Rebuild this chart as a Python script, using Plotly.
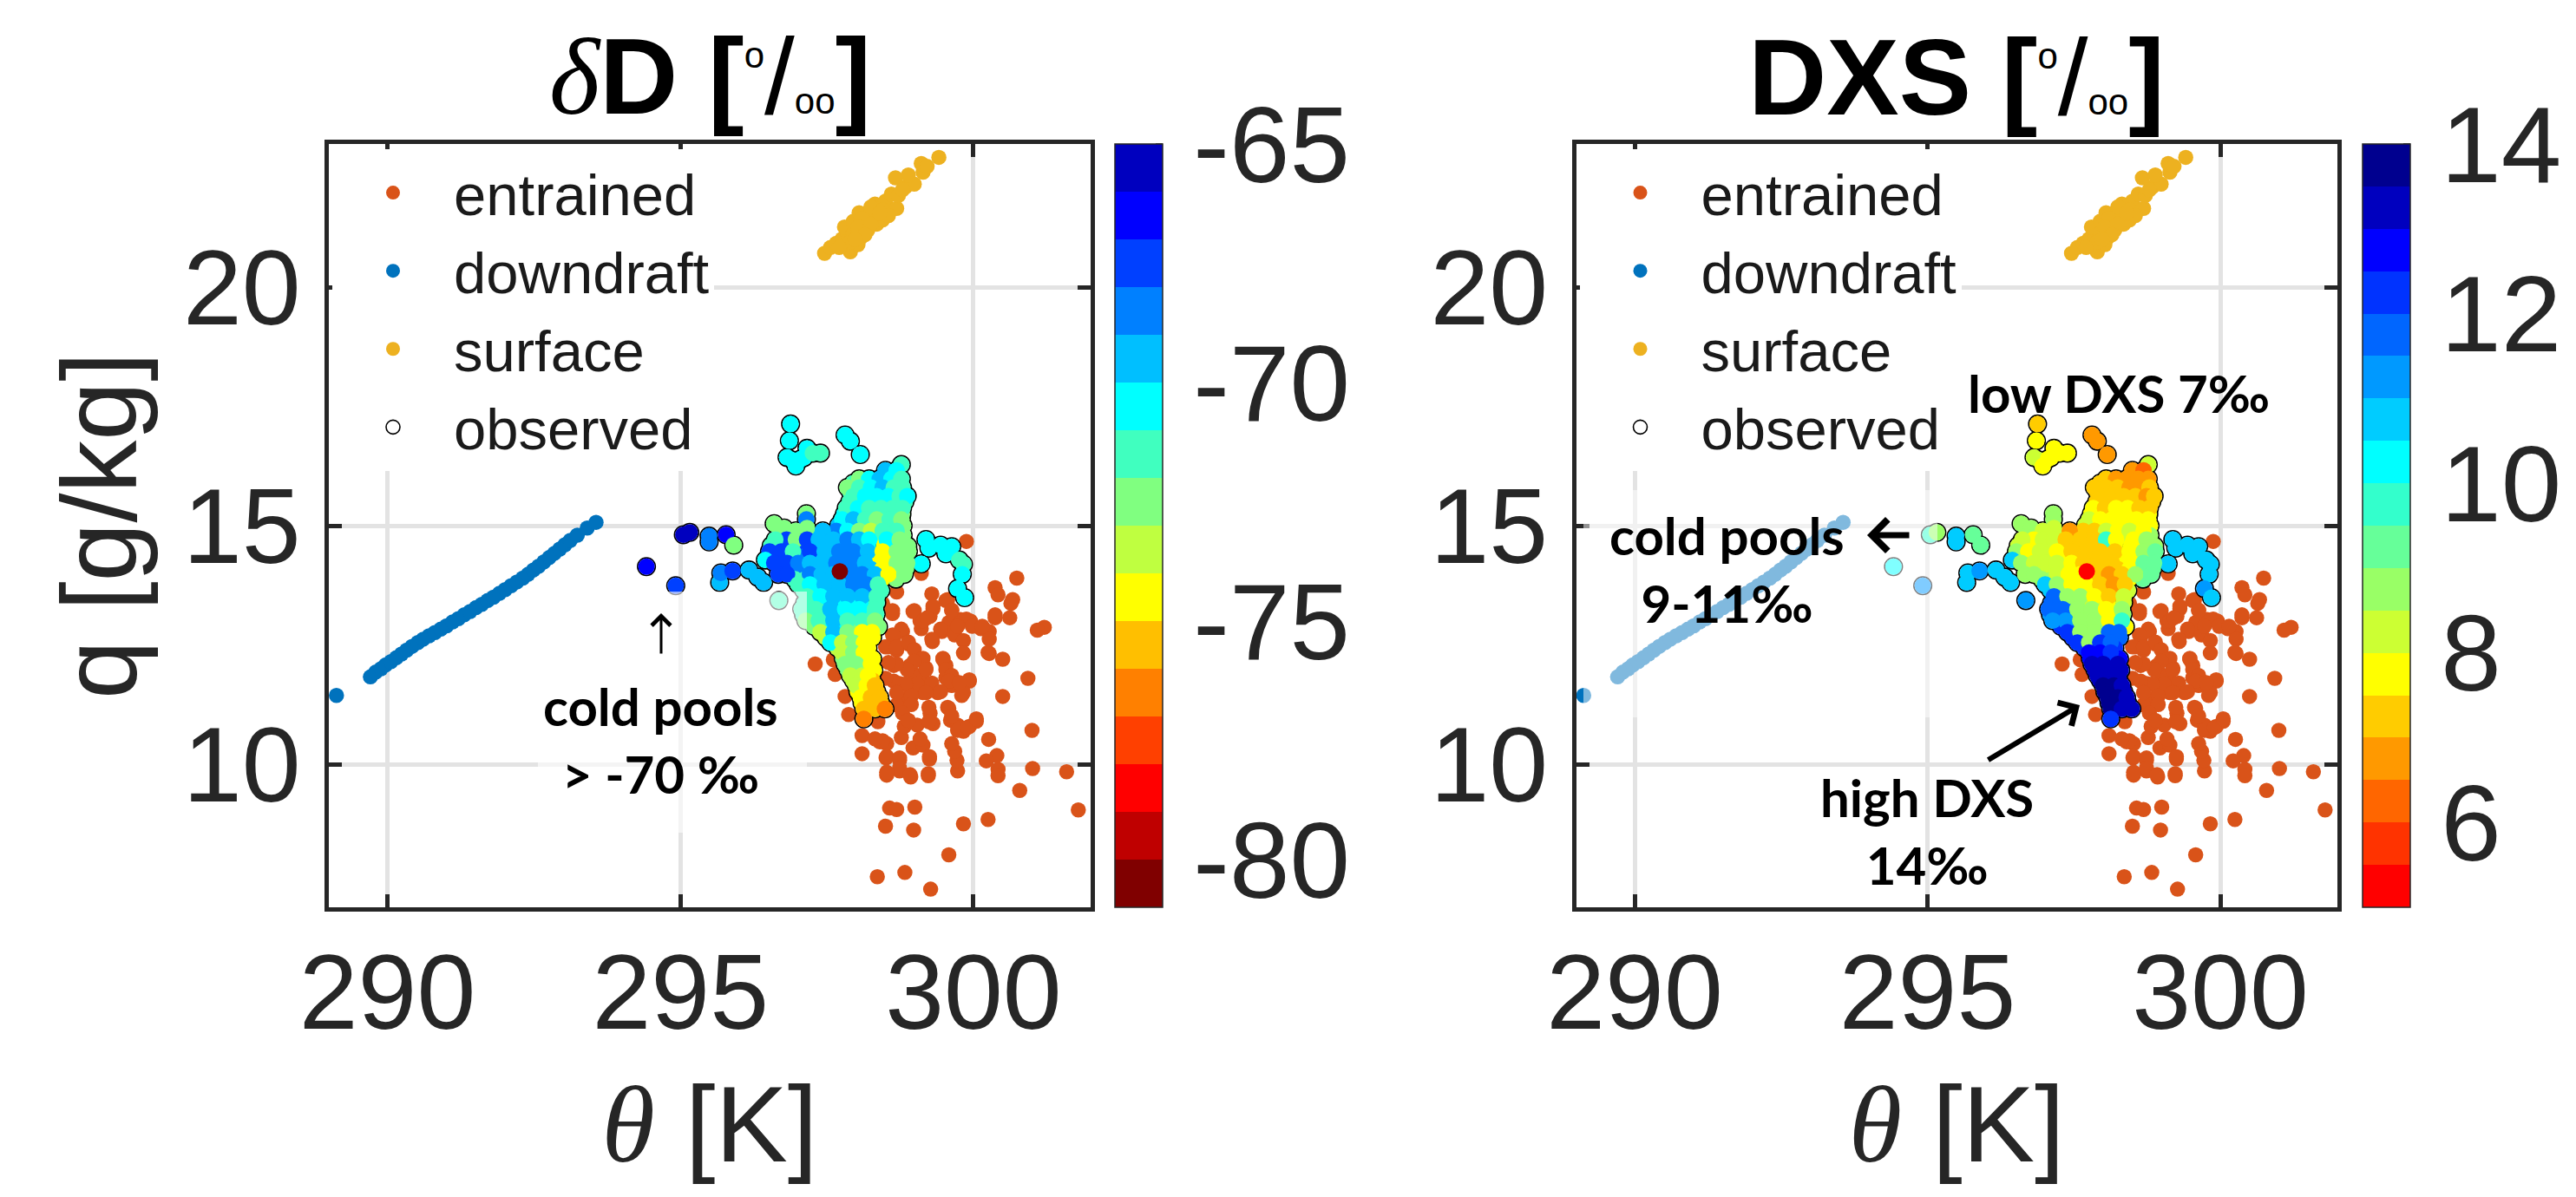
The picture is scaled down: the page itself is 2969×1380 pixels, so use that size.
import plotly.graph_objects as go

W, H = 2969, 1380
FONT = "Liberation Sans"
CALLOUT = "Lato"
INK = "#262626"

theta_ticks = [290, 295, 300]
q_ticks = [10, 15, 20]
dD_ticks = [-65, -70, -75, -80]
dD_tick_text = ["-65", "-70", "-75", "-80"]
dxs_ticks = [6, 8, 10, 12, 14]

dD_bands = ["#800000", "#BF0000", "#FF0000", "#FF4000", "#FF8000", "#FFBF00", "#FFFF00", "#BFFF40",
            "#80FF80", "#40FFBF", "#00FFFF", "#00BFFF", "#0080FF", "#0040FF", "#0000FF", "#0000BF"]
dxs_bands = ["#FF0000", "#FF3300", "#FF6600", "#FF9900", "#FFCC00", "#FFFF00", "#CCFF33", "#99FF66", "#66FF99",
             "#33FFCC", "#00FFFF", "#00CCFF", "#0099FF", "#0066FF", "#0033FF", "#0000FF", "#0000BF", "#00008F"]

ent_theta = [299.88, 299.11, 300.74, 300.37, 300.42, 300.67, 300.64, 300.62, 301.21, 301.09, 300.50, 300.93, 300.50,
             301.00, 300.26, 300.40, 300.22, 300.42, 300.42, 301.01, 301.59, 300.79, 301.79, 300.25, 299.83, 299.58,
             298.83, 298.36, 299.27, 299.00, 298.57, 298.69, 298.50, 298.98, 298.52, 298.93, 299.23, 299.73, 299.72,
             299.68, 299.63, 299.25, 298.74, 298.74, 298.51, 298.40, 298.52, 298.97, 299.14, 298.77, 299.09, 298.82,
             299.04, 299.31, 299.26, 299.58, 299.61, 299.73, 299.83, 299.93, 300.05, 299.80, 299.93, 299.63, 299.53,
             299.53, 299.48, 299.39, 299.14, 298.94, 298.74, 298.84, 298.69, 299.14, 298.99, 299.19, 299.04, 298.92,
             298.64, 298.79, 298.64, 298.55, 298.69, 298.89, 299.30, 299.46, 299.68, 299.83, 299.83, 299.58, 299.78,
             299.95, 300.13, 300.27, 300.27, 300.27, 300.37, 299.56, 299.63, 299.29, 299.31, 299.26, 299.11, 298.97,
             299.09, 298.69, 298.62, 297.30, 297.64, 297.81, 297.87, 298.10, 298.10, 298.45, 298.32, 298.52, 298.74,
             298.74, 298.52, 298.92, 299.23, 299.25, 298.62, 298.45, 298.99, 299.14, 299.31, 299.21, 299.53, 299.63,
             299.88, 299.73, 299.98, 300.15, 300.37, 299.44, 299.29, 298.77, 298.62, 298.50, 298.69, 298.89, 298.99,
             299.14, 298.99, 298.87, 298.69, 298.55, 299.19, 299.48, 299.53, 299.63, 299.58, 299.93, 299.29, 299.04,
             298.84, 298.64, 298.50, 298.69, 298.94, 299.19, 299.44, 299.83, 299.76, 299.56, 299.24, 298.94, 298.79,
             298.89, 299.24, 299.63, 299.73, 299.90, 300.05, 300.25, 297.61, 298.37]
ent_q = [14.67, 14.00, 13.90, 13.70, 13.55, 13.45, 13.37, 13.07, 12.87, 12.81, 12.20, 11.80, 11.42,
         10.71, 10.52, 10.18, 10.07, 9.89, 9.76, 9.91, 9.84, 9.45, 9.04, 8.84, 8.75, 8.10,
         7.73, 7.64, 7.38, 9.10, 9.08, 9.05, 8.70, 8.62, 9.77, 9.73, 9.76, 9.86, 10.08,
         10.27, 10.43, 10.11, 10.08, 9.86, 10.13, 10.47, 10.43, 10.34, 10.40, 10.56, 10.53, 10.79,
         10.82, 10.85, 11.07, 11.17, 10.92, 10.82, 10.69, 10.79, 10.90, 11.44, 11.74, 11.65, 11.81,
         12.07, 12.20, 11.50, 11.50, 11.56, 11.69, 11.37, 11.24, 11.75, 11.88, 12.01, 12.20, 12.07,
         12.07, 12.78, 12.65, 12.46, 12.39, 12.52, 12.57, 12.78, 12.71, 12.59, 12.33, 12.97, 13.03,
         13.00, 12.84, 12.78, 12.62, 12.32, 13.07, 13.45, 13.23, 13.57, 13.26, 13.10, 12.84, 13.20,
         13.00, 13.61, 13.16, 12.10, 11.88, 11.42, 11.04, 10.60, 10.22, 10.49, 10.53, 10.16, 10.13,
         9.92, 9.83, 9.78, 9.80, 10.16, 13.22, 13.37, 13.22, 13.01, 13.31, 13.07, 13.43, 13.22,
         13.04, 12.89, 12.89, 12.89, 13.13, 12.83, 12.62, 12.83, 12.71, 12.46, 12.46, 12.56, 12.40,
         12.22, 12.16, 11.98, 12.10, 12.13, 11.98, 12.22, 11.98, 11.86, 11.74, 11.77, 11.70, 11.68,
         11.68, 11.74, 11.80, 11.50, 11.43, 11.50, 11.52, 11.50, 11.71, 11.19, 11.19, 11.25, 11.07,
         10.92, 10.89, 11.01, 10.71, 10.77, 10.95, 12.34, 12.19, 10.89]

down_theta = [289.13, 289.71, 289.80, 289.89, 289.97, 290.06, 290.15, 290.24, 290.33, 290.42, 290.52, 290.61, 290.71, 290.81,
              290.91, 291.01, 291.11, 291.21, 291.31, 291.41, 291.51, 291.61, 291.71, 291.81, 291.91, 292.01, 292.11, 292.21,
              292.31, 292.40, 292.49, 292.58, 292.67, 292.76, 292.85, 292.94, 293.03, 293.12, 293.24, 293.41, 293.56]
down_q = [11.44, 11.83, 11.93, 12.00, 12.08, 12.15, 12.23, 12.31, 12.39, 12.47, 12.55, 12.62, 12.69, 12.76,
          12.83, 12.90, 12.98, 13.05, 13.13, 13.20, 13.28, 13.35, 13.43, 13.50, 13.58, 13.66, 13.74, 13.82,
          13.90, 13.98, 14.07, 14.15, 14.24, 14.33, 14.42, 14.51, 14.60, 14.69, 14.80, 14.95, 15.07]

surf_theta = [297.46, 297.56, 297.66, 297.90, 298.03, 297.76, 297.85, 298.08, 297.80, 297.95, 298.05, 298.15, 298.35, 298.25,
              298.45, 298.32, 298.50, 298.69, 298.60, 298.72, 298.84, 298.99, 298.67, 298.89, 299.14, 299.11, 299.21, 299.41,
              298.20, 297.90, 298.25, 298.45, 298.10, 298.55, 298.79, 297.71, 297.95, 298.03, 298.25, 298.40, 298.15, 297.98]
surf_q = [20.71, 20.83, 20.92, 20.74, 20.89, 21.01, 21.13, 21.04, 21.26, 21.38, 21.56, 21.32, 21.32, 21.50,
          21.41, 21.74, 21.80, 21.65, 21.95, 21.92, 22.10, 22.16, 22.29, 22.35, 22.41, 22.59, 22.53, 22.72,
          21.20, 20.95, 21.68, 21.62, 21.44, 21.50, 22.04, 20.83, 21.13, 21.26, 21.32, 21.55, 21.10, 21.00]

obs_theta = [294.42, 294.92, 295.05, 295.16, 295.49, 295.49, 295.78, 295.91, 295.67, 295.69, 295.89, 296.17, 296.32, 296.42, 296.68,
             296.88, 296.86, 296.82, 296.92, 296.97, 297.06, 297.16, 297.11, 297.26, 297.39,
             297.81, 297.90, 298.07,
             299.19, 299.24, 299.44, 299.63, 299.53, 299.76, 299.83, 299.81, 299.73, 299.85, 299.11,
             297.95, 298.14, 298.31, 298.50, 298.70,
             297.90, 298.10, 298.30, 298.50, 298.69,
             297.89, 298.09, 298.28, 298.48, 298.68, 298.83,
             297.80, 297.99, 298.18, 298.38, 298.59, 298.78,
             297.70, 297.88, 298.05, 298.25, 298.45, 298.65, 298.80,
             296.72, 296.90, 297.05, 297.25, 297.50, 297.73, 297.95, 298.15, 298.35, 298.60, 298.80,
             296.55, 296.72, 296.90, 297.07, 297.26, 297.50, 297.74, 297.98, 298.20, 298.48, 298.72, 298.88,
             296.56, 296.70, 296.88, 297.10, 297.33, 297.58, 297.82, 298.05, 298.33, 298.58, 298.78,
             296.70, 296.92, 297.10, 297.32, 297.55, 297.78, 298.03, 298.25, 298.45, 298.66, 298.85,
             296.95, 297.12, 297.32, 297.55, 297.80, 298.02, 298.25, 298.45, 298.68,
             297.10, 297.28, 297.52, 297.78, 298.02, 298.25, 298.42,
             297.12, 297.35, 297.58, 297.83, 298.08, 298.35,
             297.10, 297.33, 297.58, 297.83, 298.08, 298.34,
             297.28, 297.50, 297.73, 297.98, 298.22, 298.38,
             297.48, 297.68, 297.90, 298.10, 298.28,
             297.68, 297.86, 298.05, 298.20,
             297.78, 297.92, 298.10, 298.28,
             297.86, 298.00, 298.18, 298.30,
             297.95, 298.12, 298.27,
             298.03, 298.18, 298.35,
             298.10, 298.25, 298.42,
             298.77,
             298.50, 298.69,
             298.05, 298.22, 298.40, 298.60, 298.77,
             297.85, 298.05, 298.25, 298.45, 298.64, 298.79,
             297.95, 298.15, 298.35, 298.55, 298.74, 298.87,
             297.83, 298.03, 298.22, 298.42, 298.62, 298.79,
             297.76, 297.95, 298.15, 298.35, 298.57, 298.77,
             297.15, 297.15, 297.16,
             296.60, 296.77, 296.97,
             297.66, 297.85, 298.05, 298.25, 298.45, 298.69, 297.43,
             296.81, 296.62, 296.97, 297.16, 297.36, 297.61, 297.85, 298.05, 298.22, 298.52, 298.74,
             296.52, 296.72, 296.92, 297.21, 297.46, 297.71, 297.95, 298.20, 298.45, 298.69, 298.89,
             296.45, 296.60, 296.82, 297.01, 297.21, 297.46, 297.66, 297.90, 298.15, 298.50, 298.69, 298.87,
             296.67, 296.82, 297.21, 297.41, 297.61, 297.85, 298.10, 298.32, 298.55, 298.82,
             297.01, 297.21, 297.46, 297.71, 297.95, 298.18, 298.37,
             297.16, 297.39, 297.61, 297.85, 298.10, 298.35,
             297.07, 297.31, 297.56, 297.81, 298.05, 298.32,
             297.14, 297.36, 297.61, 297.85, 298.10, 298.32,
             297.39, 297.61, 297.85, 298.10, 298.27,
             297.56, 297.76, 297.95, 298.13,
             297.76, 297.95, 298.13,
             297.81, 298.00, 298.25,
             297.90, 298.10, 298.20,
             298.00, 298.18, 298.32,
             298.08, 298.25, 298.40,
             298.13, 298.32, 298.49,
             298.13,
             297.72]
obs_q = [14.14, 13.74, 14.81, 14.86, 14.78, 14.66, 14.81, 14.59, 13.81, 14.01, 14.05, 14.07, 13.92, 13.81, 13.43,
         17.13, 16.78, 16.43, 16.37, 16.25, 16.40, 16.62, 16.43, 16.52, 16.52,
         16.90, 16.77, 16.49,
         14.71, 14.53, 14.59, 14.56, 14.41, 14.28, 14.19, 13.98, 13.68, 13.49, 14.20,
         15.89, 15.91, 15.88, 15.90, 15.89,
         15.71, 15.70, 15.72, 15.71, 15.69,
         15.50, 15.49, 15.51, 15.50, 15.48, 15.50,
         15.25, 15.26, 15.24, 15.25, 15.26, 15.24,
         15.01, 15.02, 15.00, 15.01, 15.03, 15.01, 15.00,
         14.80, 14.81, 14.80, 14.79, 14.80, 14.80, 14.81, 14.80, 14.79, 14.80, 14.80,
         14.58, 14.59, 14.57, 14.58, 14.58, 14.60, 14.58, 14.57, 14.58, 14.59, 14.58, 14.57,
         14.35, 14.34, 14.36, 14.35, 14.34, 14.35, 14.36, 14.35, 14.34, 14.35, 14.35,
         14.10, 14.11, 14.10, 14.09, 14.10, 14.11, 14.10, 14.09, 14.10, 14.10, 14.11,
         13.88, 13.87, 13.88, 13.89, 13.88, 13.87, 13.88, 13.89, 13.88,
         13.65, 13.66, 13.64, 13.65, 13.66, 13.65, 13.64,
         13.38, 13.39, 13.38, 13.37, 13.38, 13.39,
         13.13, 13.14, 13.13, 13.12, 13.13, 13.14,
         12.89, 12.88, 12.89, 12.90, 12.89, 12.88,
         12.66, 12.67, 12.66, 12.65, 12.66,
         12.44, 12.45, 12.44, 12.43,
         12.22, 12.23, 12.22, 12.21,
         11.98, 11.99, 11.98, 11.97,
         11.76, 11.75, 11.76,
         11.52, 11.53, 11.52,
         11.28, 11.27, 11.28,
         16.28,
         16.16, 16.16,
         15.98, 15.98, 15.98, 15.98, 15.98,
         15.80, 15.80, 15.80, 15.80, 15.80, 15.80,
         15.62, 15.62, 15.62, 15.62, 15.62, 15.62,
         15.37, 15.37, 15.37, 15.37, 15.37, 15.37,
         15.13, 15.13, 15.13, 15.13, 15.13, 15.13,
         15.25, 15.13, 14.95,
         15.04, 14.95, 14.89,
         14.89, 14.89, 14.89, 14.89, 14.89, 14.89, 14.89,
         14.71, 14.71, 14.71, 14.71, 14.71, 14.71, 14.71, 14.71, 14.71, 14.71, 14.71,
         14.46, 14.46, 14.46, 14.46, 14.46, 14.46, 14.46, 14.46, 14.46, 14.46, 14.46,
         14.28, 14.22, 14.22, 14.22, 14.22, 14.22, 14.22, 14.22, 14.22, 14.22, 14.22, 14.22,
         13.98, 13.98, 13.98, 13.98, 13.98, 13.98, 13.98, 13.98, 13.98, 13.98,
         13.77, 13.77, 13.77, 13.77, 13.77, 13.77, 13.77,
         13.52, 13.52, 13.52, 13.52, 13.52, 13.52,
         13.25, 13.25, 13.25, 13.25, 13.25, 13.25,
         13.01, 13.01, 13.01, 13.01, 13.01, 13.01,
         12.77, 12.77, 12.77, 12.77, 12.77,
         12.55, 12.55, 12.55, 12.55,
         12.34, 12.34, 12.34,
         12.10, 12.10, 12.10,
         11.86, 11.86, 11.86,
         11.65, 11.65, 11.65,
         11.40, 11.40, 11.40,
         11.16, 11.16, 11.16,
         10.95,
         14.04]
obs_dD = [-66.5, -67.5, -65.5, -65.5, -68.5, -68.5, -66.5, -72.5, -69.5, -68.5, -67.5, -69.5, -69.5, -69.5, -71.5,
          -70.5, -70.5, -70.5, -70.5, -70.5, -70.5, -70.5, -70.5, -71.5, -71.5,
          -70.5, -70.5, -70.5,
          -70.5, -70.5, -70.5, -70.5, -70.5, -71.5, -71.5, -70.5, -70.5, -70.5, -70.5,
          -71.5, -70.5, -69.5, -70.5, -71.5,
          -71.5, -70.5, -70.5, -70.5, -71.5,
          -71.5, -70.5, -70.5, -71.5, -71.5, -71.5,
          -70.5, -70.5, -71.5, -71.5, -71.5, -72.5,
          -69.5, -70.5, -71.5, -72.5, -71.5, -72.5, -72.5,
          -72.5, -72.5, -72.5, -69.5, -69.5, -69.5, -71.5, -72.5, -71.5, -71.5, -72.5,
          -71.5, -67.5, -72.5, -67.5, -69.5, -69.5, -68.5, -69.5, -70.5, -74.5, -72.5, -72.5,
          -67.5, -67.5, -69.5, -68.5, -69.5, -69.5, -68.5, -68.5, -74.5, -74.5, -72.5,
          -67.5, -68.5, -68.5, -69.5, -69.5, -68.5, -68.5, -69.5, -74.5, -72.5, -72.5,
          -71.5, -71.5, -69.5, -69.5, -68.5, -68.5, -71.5, -74.5, -72.5,
          -71.5, -70.5, -69.5, -69.5, -69.5, -69.5, -71.5,
          -71.5, -71.5, -69.5, -70.5, -70.5, -71.5,
          -71.5, -71.5, -69.5, -71.5, -71.5, -71.5,
          -72.5, -70.5, -70.5, -72.5, -73.5, -72.5,
          -73.5, -71.5, -72.5, -74.5, -74.5,
          -73.5, -72.5, -73.5, -74.5,
          -72.5, -72.5, -73.5, -74.5,
          -72.5, -73.5, -74.5, -74.5,
          -73.5, -73.5, -75.5,
          -74.5, -74.5, -75.5,
          -74.5, -74.5, -75.5,
          -71.5,
          -69.5, -70.5,
          -72.5, -70.5, -69.5, -70.5, -71.5,
          -72.5, -71.5, -70.5, -69.5, -71.5, -71.5,
          -71.5, -70.5, -70.5, -70.5, -71.5, -70.5,
          -71.5, -70.5, -71.5, -71.5, -71.5, -71.5,
          -70.5, -69.5, -71.5, -72.5, -71.5, -72.5,
          -72.5, -68.5, -72.5,
          -72.5, -72.5, -72.5,
          -68.5, -70.5, -72.5, -73.5, -71.5, -71.5, -69.5,
          -67.5, -71.5, -72.5, -67.5, -69.5, -69.5, -68.5, -69.5, -70.5, -70.5, -72.5,
          -67.5, -67.5, -71.5, -67.5, -69.5, -68.5, -68.5, -69.5, -74.5, -72.5, -72.5,
          -70.5, -67.5, -67.5, -68.5, -69.5, -69.5, -68.5, -68.5, -69.5, -74.5, -72.5, -72.5,
          -67.5, -67.5, -68.5, -69.5, -69.5, -68.5, -68.5, -69.5, -74.5, -72.5,
          -71.5, -70.5, -69.5, -69.5, -68.5, -68.5, -71.5,
          -71.5, -70.5, -69.5, -69.5, -69.5, -71.5,
          -71.5, -71.5, -69.5, -70.5, -70.5, -71.5,
          -72.5, -71.5, -69.5, -71.5, -71.5, -72.5,
          -73.5, -69.5, -72.5, -74.5, -74.5,
          -70.5, -73.5, -72.5, -74.5,
          -73.5, -72.5, -74.5,
          -72.5, -72.5, -74.5,
          -73.5, -73.5, -74.5,
          -73.5, -74.5, -75.5,
          -74.5, -75.5, -75.5,
          -75.5, -75.5, -76.5,
          -76.5,
          -80.5]
obs_dxs = [10.25, 11.25, 9.75, 8.75, 10.75, 10.75, 9.25, 9.25, 10.75, 10.75, 11.25, 10.75, 10.75, 10.75, 11.25,
           7.25, 7.75, 8.25, 8.25, 7.75, 7.75, 7.75, 7.75, 7.75, 7.75,
           6.75, 6.75, 6.75,
           10.75, 10.75, 10.75, 10.75, 10.75, 10.75, 10.75, 10.75, 11.25, 10.75, 10.75,
           7.25, 6.75, 6.75, 6.75, 6.75,
           7.25, 7.25, 7.25, 6.75, 6.75,
           7.25, 7.25, 7.25, 7.25, 7.25, 7.25,
           7.75, 7.75, 7.75, 7.75, 7.75, 7.75,
           8.25, 7.75, 7.75, 7.75, 7.75, 7.75, 7.75,
           8.25, 8.25, 8.25, 8.25, 6.75, 7.25, 8.25, 7.75, 8.25, 7.75, 8.75,
           8.25, 7.75, 8.25, 8.25, 7.25, 7.25, 7.25, 7.25, 7.75, 7.75, 8.75, 8.75,
           8.75, 8.25, 8.25, 8.25, 7.75, 7.25, 7.25, 7.25, 7.75, 8.75, 9.25,
           8.75, 8.25, 8.25, 7.75, 7.25, 7.25, 7.25, 7.25, 7.75, 9.25, 9.25,
           8.75, 8.75, 7.75, 7.25, 7.25, 7.25, 7.25, 7.75, 9.25,
           10.75, 8.75, 8.75, 7.75, 7.25, 7.25, 8.25,
           11.75, 11.75, 8.75, 8.25, 7.75, 8.25,
           11.25, 11.25, 8.75, 8.75, 7.75, 8.75,
           12.25, 11.75, 8.75, 8.75, 7.75, 7.75,
           12.25, 11.75, 8.75, 11.75, 11.75,
           12.25, 8.75, 12.75, 12.25,
           12.75, 12.75, 12.75, 12.75,
           13.25, 13.25, 13.25, 13.25,
           13.25, 13.75, 13.25,
           13.75, 13.75, 13.25,
           13.75, 13.75, 13.25,
           8.25,
           6.75, 6.25,
           7.25, 6.75, 6.75, 6.75, 6.75,
           7.25, 7.25, 7.25, 6.75, 6.75, 7.25,
           7.25, 7.25, 7.25, 7.25, 6.75, 7.25,
           7.75, 7.25, 7.75, 7.75, 7.25, 7.25,
           8.25, 7.75, 7.75, 7.75, 7.75, 7.75,
           8.75, 8.75, 8.25,
           8.75, 8.75, 8.25,
           7.25, 7.25, 8.25, 7.75, 8.25, 7.75, 6.75,
           7.75, 8.25, 8.25, 8.25, 7.25, 7.25, 7.25, 9.75, 7.75, 7.75, 8.75,
           8.75, 7.75, 8.25, 7.75, 7.25, 7.25, 7.25, 7.25, 7.75, 8.75, 9.25,
           10.75, 8.75, 8.25, 8.25, 8.25, 7.75, 7.25, 7.25, 7.25, 7.75, 9.25, 9.25,
           8.75, 8.75, 8.25, 7.75, 7.75, 7.25, 6.75, 7.25, 8.75, 9.25,
           10.75, 8.75, 7.75, 7.75, 7.25, 6.75, 7.25,
           11.75, 8.75, 8.75, 7.75, 7.25, 8.25,
           11.75, 11.75, 8.75, 8.75, 7.75, 8.75,
           11.25, 11.25, 8.75, 8.75, 7.75, 9.75,
           12.25, 8.75, 8.75, 11.75, 11.75,
           12.25, 8.75, 12.25, 11.75,
           12.75, 12.75, 12.25,
           13.25, 13.25, 13.25,
           13.25, 13.25, 13.25,
           13.75, 13.75, 13.25,
           13.75, 13.75, 13.25,
           13.75, 13.25, 13.25,
           12.25,
           5.25]
assert len(obs_theta) == len(obs_q) == len(obs_dD) == len(obs_dxs), (len(obs_theta), len(obs_q), len(obs_dD), len(obs_dxs))


def stepped(colors):
    n = len(colors)
    scale = []
    for i, c in enumerate(colors):
        scale += [[i / n, c], [(i + 1) / n, c]]
    return scale


def fx(px):
    return px / W


def fy(py):
    return 1 - py / H


TOP, BOTTOM = 166, 1046
panels = [
    dict(suffix="", left=379, right=1257, bar=1285, legend="legend", values=obs_dD, bands=dD_bands,
         cmin=-81, cmax=-65, ticks=dD_ticks, text=dD_tick_text),
    dict(suffix="2", left=1816.5, right=2694, bar=2723, legend="legend2", values=obs_dxs, bands=dxs_bands,
         cmin=5, cmax=14, ticks=dxs_ticks, text=[str(t) for t in dxs_ticks]),
]

fig = go.Figure()
shapes = []
for p in panels:
    ax = dict(xaxis="x" + p["suffix"], yaxis="y" + p["suffix"], legend=p["legend"])
    fig.add_trace(go.Scatter(x=ent_theta, y=ent_q, mode="markers", name="entrained",
                             marker=dict(size=17.5, color="#D95319"), **ax))
    fig.add_trace(go.Scatter(x=down_theta, y=down_q, mode="markers", name="downdraft",
                             marker=dict(size=17.5, color="#0072BD"), **ax))
    fig.add_trace(go.Scatter(x=surf_theta, y=surf_q, mode="markers", name="surface",
                             marker=dict(size=17.5, color="#EDB120"), **ax))
    fig.add_trace(go.Scatter(x=obs_theta, y=obs_q, mode="markers", name="observed",
                             marker=dict(size=20.5, color="white", line=dict(color="black", width=1.6)), **ax))
    fig.add_trace(go.Scatter(x=obs_theta, y=obs_q, mode="markers", name="observed values", showlegend=False,
                             marker=dict(size=19, color=p["values"], colorscale=stepped(p["bands"]),
                                         cmin=p["cmin"], cmax=p["cmax"], showscale=True,
                                         colorbar=dict(x=fx(p["bar"]), xanchor="left", xpad=0, ypad=0,
                                                       y=fy((TOP + BOTTOM) / 2), yanchor="middle",
                                                       len=(BOTTOM - TOP) / H, lenmode="fraction",
                                                       thickness=55, thicknessmode="pixels",
                                                       outlinecolor=INK, outlinewidth=1.5,
                                                       tickmode="array", tickvals=p["ticks"], ticktext=p["text"],
                                                       ticks="outside", ticklen=10, tickcolor="rgba(0,0,0,0)",
                                                       tickfont=dict(family=FONT, color=INK, size=125))),
                             **ax))
    span = p["cmax"] - p["cmin"]
    for t in p["ticks"]:
        yy = TOP + (p["cmax"] - t) / span * (BOTTOM - TOP)
        shapes.append(dict(type="line", xref="paper", yref="paper", x0=fx(p["bar"] + 47), x1=fx(p["bar"] + 55),
                           y0=fy(yy), y1=fy(yy), line=dict(color=INK, width=1.5)))

axis = dict(showgrid=True, gridcolor="#E3E3E3", gridwidth=5, zeroline=False, showline=True, linecolor=INK, linewidth=5,
            mirror="ticks", ticks="inside", ticklen=15, tickwidth=5, tickcolor=INK,
            tickfont=dict(family=FONT, color=INK, size=122))
theta_title = "<span style=\"font-family:'Liberation Serif'\"><i>\u03b8</i></span> [K]"
legend = dict(bgcolor="white", borderwidth=0, itemwidth=130, font=dict(family=FONT, color="#1a1a1a", size=67),
              xanchor="left", yanchor="top", itemclick=False, itemdoubleclick=False, tracegroupgap=0)
layout = dict(width=W, height=H, margin=dict(l=0, r=0, t=0, b=0, autoexpand=False), paper_bgcolor="white",
              plot_bgcolor="white", font=dict(family=FONT, color=INK), hovermode=False)
for p in panels:
    s = p["suffix"]
    layout["xaxis" + s] = dict(axis, domain=[fx(p["left"]), fx(p["right"])], range=[289, 302], tickvals=theta_ticks,
                               anchor="y" + s, ticklabelstandoff=-11,
                               title=dict(text=theta_title, standoff=42, font=dict(family=FONT, color=INK, size=125)))
    layout["yaxis" + s] = dict(axis, domain=[fy(BOTTOM), fy(TOP)], range=[7, 23], tickvals=q_ticks,
                               anchor="x" + s, ticklabelstandoff=3)
    layout[p["legend"]] = dict(legend, x=fx(p["left"] + 4), y=fy(172))
layout["yaxis"]["title"] = dict(text="q [g/kg]", standoff=14, font=dict(family=FONT, color=INK, size=122))

fig.update_layout(**layout)


def note(text, px, py, size=60):
    fig.add_annotation(text=text, x=fx(px), y=fy(py), xref="paper", yref="paper", showarrow=False,
                       font=dict(family=CALLOUT, color="black", size=size), align="center",
                       xanchor="center", yanchor="middle")


def arrow(x0, y0, x1, y1, width, size):
    fig.add_annotation(text="", x=fx(x1), y=fy(y1), xref="paper", yref="paper", ax=x0 - x1, ay=y0 - y1,
                       axref="pixel", ayref="pixel", showarrow=True, arrowhead=4, arrowwidth=width, arrowsize=size,
                       arrowcolor="black")


per_mil = ("<sup><span style=\"font-size:42px\">o</span></sup>/"
           "<span style=\"font-size:42px\">oo</span><b>]</b>")
fig.add_annotation(text="<span style=\"font-family:'Liberation Serif'\"><i>\u03b4</i></span><b>D [</b>" + per_mil,
                   x=fx(818), y=fy(88), xref="paper", yref="paper", showarrow=False, xanchor="center", yanchor="middle",
                   font=dict(family=FONT, color="black", size=125))
fig.add_annotation(text="<b>DXS [</b>" + per_mil,
                   x=fx(2255), y=fy(88), xref="paper", yref="paper", showarrow=False, xanchor="center", yanchor="middle",
                   font=dict(family=FONT, color="black", size=125))

note("<b>cold pools<br>&gt; -70 \u2030</b>", 761, 853)
note("<b>cold pools<br>9-11\u2030</b>", 1990, 656)
note("<b>low DXS 7\u2030</b>", 2442, 453)
note("<b>high DXS<br>14\u2030</b>", 2221, 958)
arrow(762, 755, 762, 707, 3, 1.4)
arrow(2202, 617, 2152, 617, 7, 1)
arrow(2290, 877, 2397, 813, 6, 1)

shapes.append(dict(type="rect", xref="paper", yref="paper", x0=fx(620), x1=fx(930), y0=fy(682), y1=fy(960),
                   fillcolor="rgba(255,255,255,0.6)", line=dict(width=0), layer="above"))
shapes.append(dict(type="rect", xref="paper", yref="paper", x0=fx(1825), x1=fx(2233), y0=fy(565), y1=fy(827),
                   fillcolor="rgba(255,255,255,0.5)", line=dict(width=0), layer="above"))
fig.update_layout(shapes=shapes)

fig.write_html("out.html", post_script="document.body.style.margin='0';", config=dict(displayModeBar=False))
